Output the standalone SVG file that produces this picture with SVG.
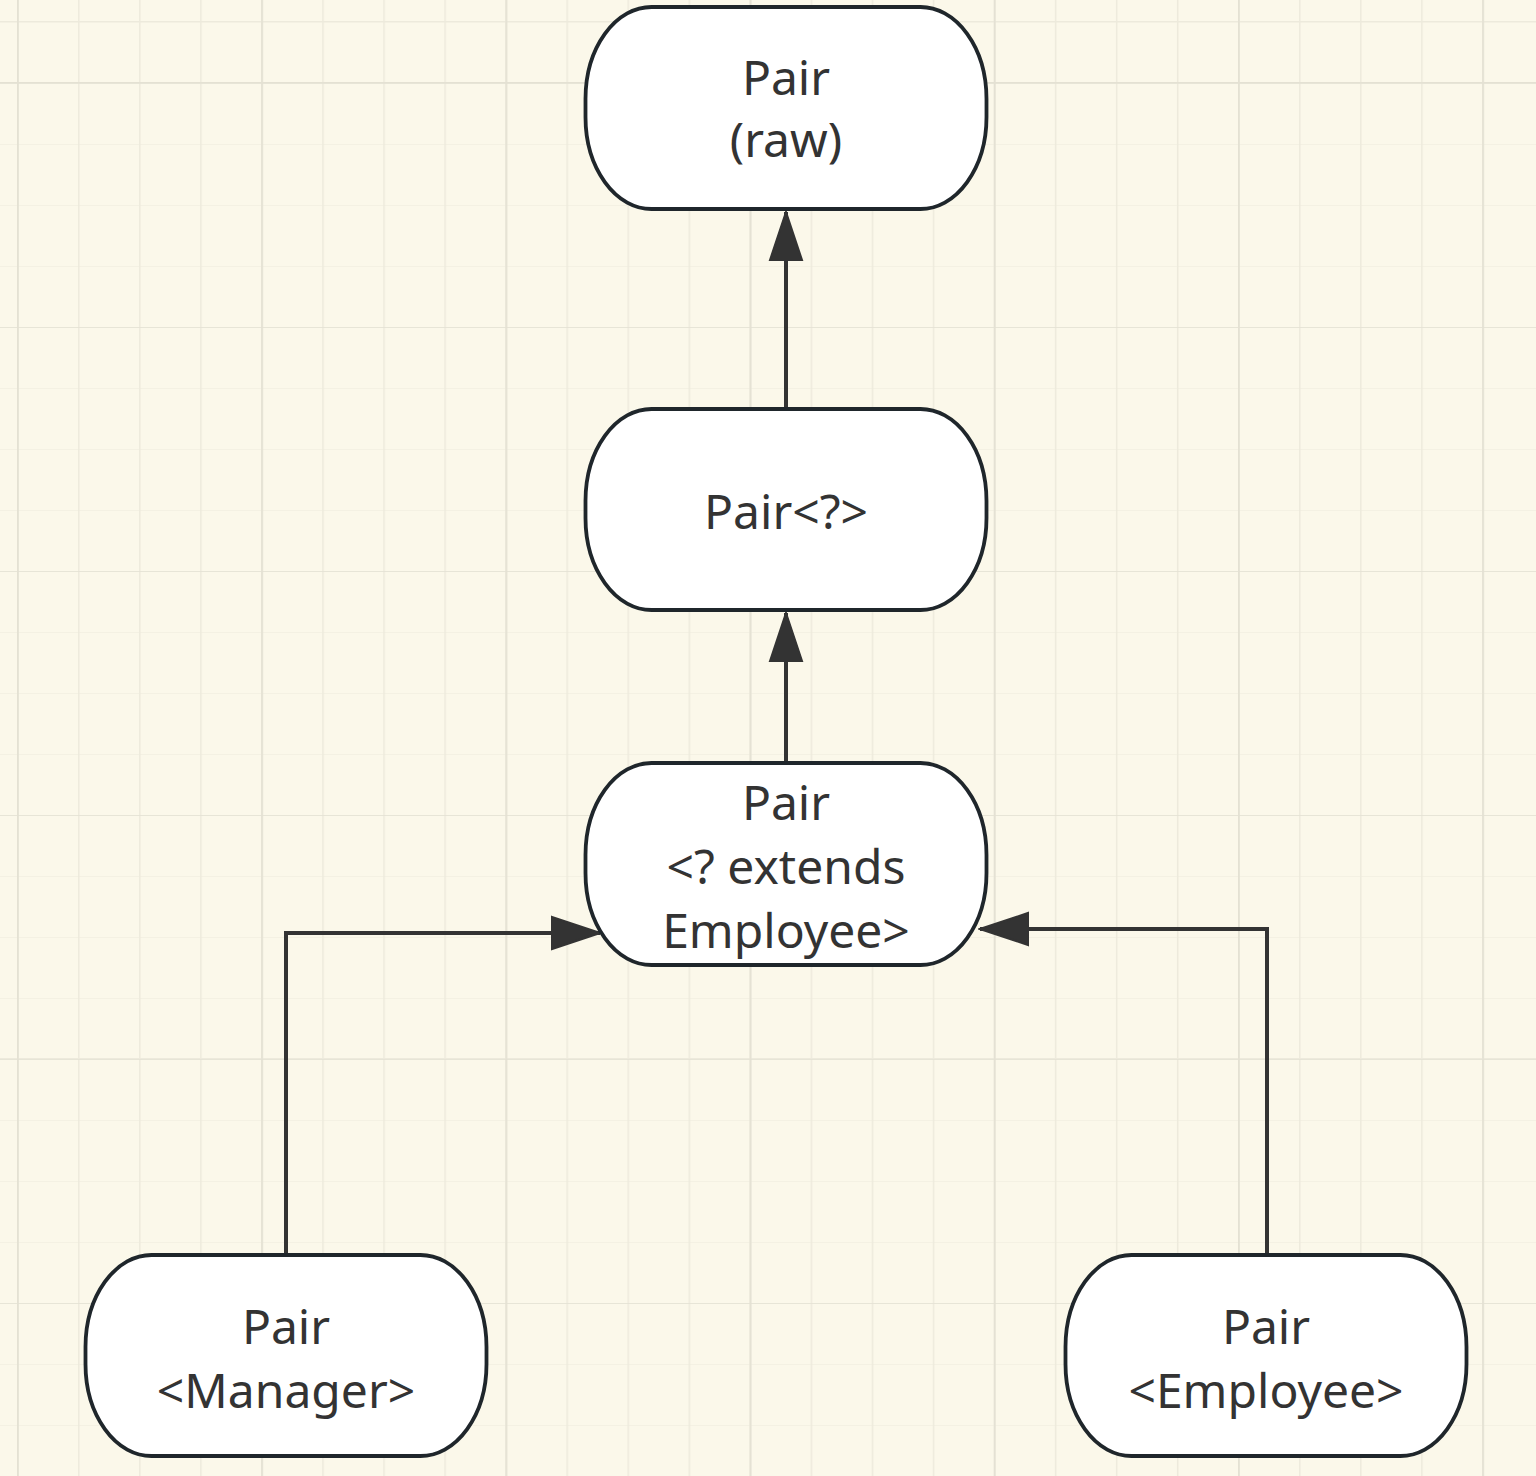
<svg xmlns="http://www.w3.org/2000/svg" width="1536" height="1476" viewBox="0 0 1536 1476">
<defs>
<pattern id="minor" x="17" y="21" width="61.05" height="61" patternUnits="userSpaceOnUse">
<path d="M0 0V61M0 0H61.05" fill="none" stroke="#edeadc" stroke-width="3"/>
</pattern>
<pattern id="major" x="17" y="82" width="244.2" height="244" patternUnits="userSpaceOnUse">
<path d="M0 0V244M0 0H244.2" fill="none" stroke="#e4e1d3" stroke-width="3.5"/>
</pattern>
<marker id="arr" markerUnits="userSpaceOnUse" markerWidth="52" markerHeight="36" refX="50" refY="18" orient="auto">
<path d="M2 2 L50 18 L2 34 Z" fill="#333333" stroke="#333333" stroke-width="2"/>
</marker>
<style>
.node rect{fill:#ffffff;stroke:#1f262b;stroke-width:3.8}
.node text{font-family:"Noto Sans","Liberation Sans",sans-serif;font-size:48px;fill:#333333;text-anchor:middle}
.edge{fill:none;stroke:#333333;stroke-width:4;marker-end:url(#arr)}
</style>
</defs>
<rect width="1536" height="1476" fill="#fbf8ea"/>
<rect width="1536" height="1476" fill="url(#minor)"/>
<rect width="1536" height="1476" fill="url(#major)"/>
<g id="connectors">
<path class="edge" d="M786 409 V212"/>
<path class="edge" d="M786 763 V613"/>
<path class="edge" d="M286 1255 V933 H600"/>
<path class="edge" d="M1267 1255 V929 H980"/>
</g>
<g id="node-raw" class="node">
<rect x="585.5" y="7" width="401" height="202" rx="66" ry="92"/>
<text x="786" y="95">Pair</text>
<text x="786" y="157">(raw)</text>
</g>
<g id="node-wildcard" class="node">
<rect x="585.5" y="409" width="401" height="201" rx="66" ry="92"/>
<text x="786" y="529">Pair&lt;?&gt;</text>
</g>
<g id="node-extends" class="node">
<rect x="585.5" y="763" width="401" height="202" rx="66" ry="92"/>
<text x="786" y="820">Pair</text>
<text x="786" y="884">&lt;? extends</text>
<text x="786" y="948">Employee&gt;</text>
</g>
<g id="node-manager" class="node">
<rect x="85.5" y="1255" width="401" height="201" rx="66" ry="92"/>
<text x="286" y="1344">Pair</text>
<text x="286" y="1408">&lt;Manager&gt;</text>
</g>
<g id="node-employee" class="node">
<rect x="1065.5" y="1255" width="401" height="201" rx="66" ry="92"/>
<text x="1266" y="1344">Pair</text>
<text x="1266" y="1408">&lt;Employee&gt;</text>
</g>
</svg>
